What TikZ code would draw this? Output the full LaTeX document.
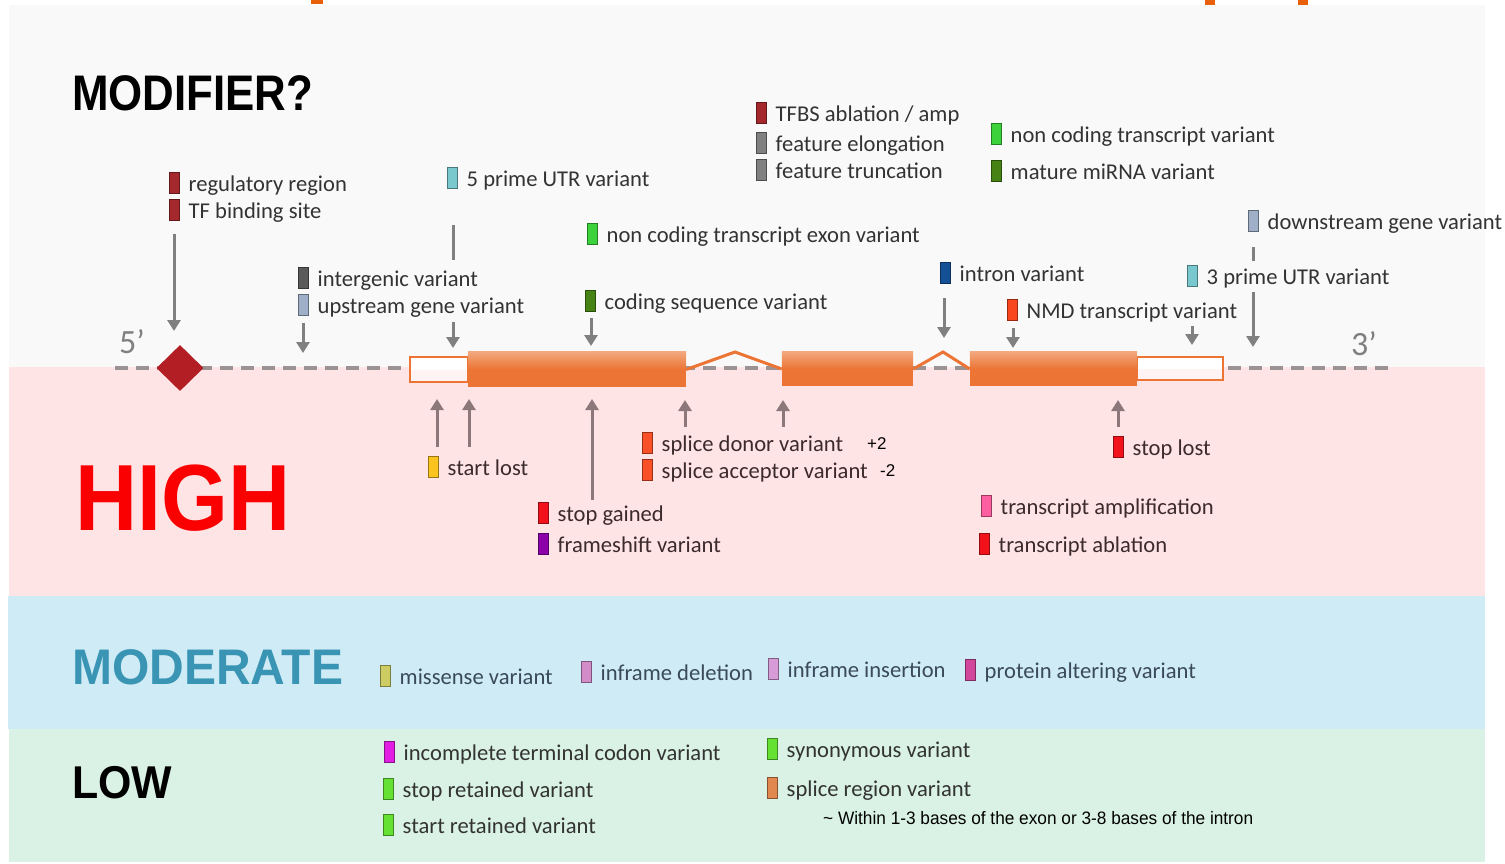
\documentclass[tikz,border=0pt]{standalone}
\usepackage{graphicx}
\usepackage{fontspec}
\setmainfont{Carlito}
\newfontfamily\arialf{Liberation Sans}
\usetikzlibrary{arrows.meta,shapes.geometric}
\definecolor{bgmod}{RGB}{249,249,249}
\definecolor{bghigh}{RGB}{255,228,230}
\definecolor{bgmoder}{RGB}{207,235,246}
\definecolor{bglow}{RGB}{217,242,229}
\definecolor{utrlow}{RGB}{255,243,244}
\definecolor{txtm}{RGB}{51,51,51}
\definecolor{txth}{RGB}{60,42,44}
\definecolor{txtmo}{RGB}{58,74,88}
\definecolor{arrm}{RGB}{128,128,128}
\definecolor{arrh}{RGB}{140,120,122}
\definecolor{geneg}{RGB}{155,147,147}
\definecolor{exor}{RGB}{236,116,52}
\definecolor{exhi}{RGB}{242,168,125}
\definecolor{frag}{RGB}{232,96,10}
\definecolor{cdkred}{RGB}{165,40,45}
\definecolor{cteal}{RGB}{120,200,205}
\definecolor{cgray}{RGB}{128,128,128}
\definecolor{cdkgray}{RGB}{90,90,90}
\definecolor{cgreen}{RGB}{60,210,60}
\definecolor{colive}{RGB}{70,130,20}
\definecolor{cslate}{RGB}{160,175,200}
\definecolor{cdkblue}{RGB}{20,80,150}
\definecolor{cnmd}{RGB}{250,70,30}
\definecolor{cgold}{RGB}{250,195,30}
\definecolor{csplice}{RGB}{250,80,40}
\definecolor{cred}{RGB}{242,18,28}
\definecolor{cpurple}{RGB}{140,0,170}
\definecolor{cpink}{RGB}{255,95,160}
\definecolor{cmiss}{RGB}{205,205,100}
\definecolor{cindel}{RGB}{210,140,200}
\definecolor{cinins}{RGB}{215,155,215}
\definecolor{cpav}{RGB}{210,70,155}
\definecolor{cmagenta}{RGB}{225,30,225}
\definecolor{clgreen}{RGB}{100,225,50}
\definecolor{csreg}{RGB}{225,135,80}
\definecolor{chigh}{RGB}{250,0,0}
\definecolor{cmodt}{RGB}{58,149,181}
\tikzset{
  swatch/.style={draw=#1!60!black, fill=#1, line width=0.7pt, minimum width=10.5pt, minimum height=21pt, inner sep=0pt},
  lbl/.style={font=\fontsize{22.6}{26}\selectfont, inner sep=0pt},
  arrm/.style={draw=arrm, line width=3pt, -{Triangle[width=13pt,length=11pt]}},
  arrmline/.style={draw=arrm, line width=3pt},
  arrh/.style={draw=arrh, line width=3pt, -{Triangle[width=13pt,length=11pt]}},
  geneline/.style={draw=geneg, line width=3.5pt, dash pattern=on 13pt off 8pt},
  intronline/.style={draw=exor, line width=3pt, line join=miter},
  utrbox/.style={fill=white, inner sep=0pt},
  utredge/.style={draw=exor, line width=2pt},
  exonbox/.style={fill=exor, inner sep=0pt},
  title/.style={inner sep=0pt, anchor=base west, font=\arialf\bfseries},
}
\newcommand\varlabel[6]{%
  \node[swatch=#4] (s#1) at (#2+5.5,#3) {};
  \node[lbl, text=#6, anchor=base west] (t#1) at (#2+19.5,#3+8) {#5};}
\begin{document}
\begin{tikzpicture}[x=1pt,y=-1pt]
\useasboundingbox (0,0) rectangle (1505,863);
\fill[white] (0,0) rectangle (1505,863);
% bands
\fill[bgmod] (9,5) rectangle (1485,367);
\fill[bghigh] (9,367) rectangle (1485,596);
\fill[bgmoder] (8,596) rectangle (1485,729);
\fill[bglow] (9,729) rectangle (1485,862);
% fragments at top
\fill[frag] (311,0) rectangle (323,4);
\fill[frag] (1205,0) rectangle (1215,5);
\fill[frag] (1298,0) rectangle (1308,5);
% titles
\node[title, font=\arialf\bfseries\fontsize{50}{56}\selectfont] (tmod) at (72,110) {\resizebox{241pt}{\height}{MODIFIER?}};
\node[title, text=chigh, font=\arialf\bfseries\fontsize{94}{100}\selectfont] (thigh) at (75,530) {\resizebox{215pt}{\height}{HIGH}};
\node[title, text=cmodt, font=\arialf\bfseries\fontsize{50}{56}\selectfont] (tmoder) at (72,684) {\resizebox{271pt}{\height}{MODERATE}};
\node[title, font=\arialf\bfseries\fontsize{46}{52}\selectfont] (tlow) at (72,798) {\resizebox{100pt}{\height}{LOW}};
% gene line
\coordinate (g5) at (115,368);
\coordinate (g3) at (1392,368);
\draw[geneline] (g5) -- (g3);
\node[inner sep=0pt, anchor=base west, text=arrm, font=\fontsize{34}{38}\selectfont] (five) at (119,353) {5’};
\node[inner sep=0pt, anchor=base west, text=arrm, font=\fontsize{34}{38}\selectfont] (three) at (1351,355) {3’};
\node[diamond, fill={rgb,255:red,178;green,30;blue,36}, minimum width=47pt, minimum height=46pt, inner sep=0pt] (regdia) at (180,368) {};
% gene structure
\node[utrbox, minimum width=58pt, minimum height=24pt] (utr5) at (439,369.5) {};
\node[utrbox, minimum width=86pt, minimum height=23pt] (utr3) at (1180,368.5) {};
\foreach \u in {utr5,utr3}{
  \fill[utrlow] (\u.west) rectangle (\u.south east);
  \draw[utredge] (\u.north west) rectangle (\u.south east);}
\node[exonbox, minimum width=218pt, minimum height=35pt] (ex1) at (577,369.5) {};
\node[exonbox, minimum width=131pt, minimum height=34pt] (ex2) at (847.5,369) {};
\node[exonbox, minimum width=167pt, minimum height=34pt] (ex3) at (1053.5,369) {};
\foreach \e in {ex1,ex2,ex3}{\shade[top color=exhi, bottom color=exor] (\e.north west) rectangle (\e.east);}
\coordinate (pk1) at (735,352);
\coordinate (pk2) at (943,352);
\draw[intronline] (ex1.east) -- (pk1) -- (ex2.west);
\draw[intronline] (ex2.east) -- (pk2) -- (ex3.west);
% modifier labels
\varlabel{reg}{169}{183}{cdkred}{regulatory region}{txtm}
\varlabel{tfb}{169}{210}{cdkred}{TF binding site}{txtm}
\varlabel{u5}{447}{178}{cteal}{5 prime UTR variant}{txtm}
\varlabel{tfba}{756}{113}{cdkred}{TFBS ablation / amp}{txtm}
\varlabel{fel}{756}{143}{cgray}{feature elongation}{txtm}
\varlabel{ftr}{756}{170}{cgray}{feature truncation}{txtm}
\varlabel{nct}{991}{134}{cgreen}{non coding transcript variant}{txtm}
\varlabel{mir}{991}{171}{colive}{mature miRNA variant}{txtm}
\varlabel{ncte}{587}{234}{cgreen}{non coding transcript exon variant}{txtm}
\varlabel{dgv}{1248}{221}{cslate}{downstream gene variant}{txtm}
\varlabel{igv}{298}{278}{cdkgray}{intergenic variant}{txtm}
\varlabel{ugv}{298}{305}{cslate}{upstream gene variant}{txtm}
\varlabel{csv}{585}{301}{colive}{coding sequence variant}{txtm}
\varlabel{inv}{940}{273}{cdkblue}{intron variant}{txtm}
\varlabel{u3}{1187}{276}{cteal}{3 prime UTR variant}{txtm}
\varlabel{nmd}{1007}{310}{cnmd}{NMD transcript variant}{txtm}
% modifier arrows
\coordinate (a1s) at (174,234); \coordinate (a1e) at (174,331);
\draw[arrm] (a1s) -- (a1e);
\coordinate (a2s) at (303,323); \coordinate (a2e) at (303,353);
\draw[arrm] (a2s) -- (a2e);
\coordinate (l3s) at (453,225); \coordinate (l3e) at (453,260);
\draw[arrmline] (l3s) -- (l3e);
\coordinate (a3s) at (453,322); \coordinate (a3e) at (453,348);
\draw[arrm] (a3s) -- (a3e);
\coordinate (a4s) at (591,318); \coordinate (a4e) at (591,346);
\draw[arrm] (a4s) -- (a4e);
\coordinate (a5s) at (944,298); \coordinate (a5e) at (944,338);
\draw[arrm] (a5s) -- (a5e);
\coordinate (a6s) at (1013,328); \coordinate (a6e) at (1013,348);
\draw[arrm] (a6s) -- (a6e);
\coordinate (a7s) at (1192,326); \coordinate (a7e) at (1192,345);
\draw[arrm] (a7s) -- (a7e);
\coordinate (l8s) at (1253,247); \coordinate (l8e) at (1253,261);
\draw[arrmline] (l8s) -- (l8e);
\coordinate (a8s) at (1253,292); \coordinate (a8e) at (1253,347);
\draw[arrm] (a8s) -- (a8e);
% high arrows
\coordinate (b1s) at (437,447); \coordinate (b1e) at (437,399);
\draw[arrh] (b1s) -- (b1e);
\coordinate (b2s) at (469,447); \coordinate (b2e) at (469,399);
\draw[arrh] (b2s) -- (b2e);
\coordinate (b3s) at (592,500); \coordinate (b3e) at (592,399);
\draw[arrh] (b3s) -- (b3e);
\coordinate (b4s) at (685,427); \coordinate (b4e) at (685,400);
\draw[arrh] (b4s) -- (b4e);
\coordinate (b5s) at (783,427); \coordinate (b5e) at (783,400);
\draw[arrh] (b5s) -- (b5e);
\coordinate (b6s) at (1118,427); \coordinate (b6e) at (1118,400);
\draw[arrh] (b6s) -- (b6e);
% high labels
\varlabel{sl}{428}{467}{cgold}{start lost}{txth}
\varlabel{sdv}{642}{443}{csplice}{splice donor variant}{txth}
\varlabel{sav}{642}{470}{csplice}{splice acceptor variant}{txth}
\varlabel{sg}{538}{513}{cred}{stop gained}{txth}
\varlabel{fs}{538}{544}{cpurple}{frameshift variant}{txth}
\varlabel{stl}{1113}{447}{cred}{stop lost}{txth}
\varlabel{ta}{981}{506}{cpink}{transcript amplification}{txth}
\varlabel{tab}{979}{544}{cred}{transcript ablation}{txth}
\node[inner sep=0pt, anchor=base west, font=\arialf\fontsize{17}{20}\selectfont] (plus2) at (867,449) {+2};
\node[inner sep=0pt, anchor=base west, font=\arialf\fontsize{17}{20}\selectfont] (minus2) at (880,476) {-2};
% moderate labels
\varlabel{mis}{380}{676}{cmiss}{missense variant}{txtmo}
\varlabel{ifd}{581}{672}{cindel}{inframe deletion}{txtmo}
\varlabel{ifi}{768}{669}{cinins}{inframe insertion}{txtmo}
\varlabel{pav}{965}{670}{cpav}{protein altering variant}{txtmo}
% low labels
\varlabel{itc}{384}{752}{cmagenta}{incomplete terminal codon variant}{txtm}
\varlabel{srv}{383}{789}{clgreen}{stop retained variant}{txtm}
\varlabel{stv}{383}{825}{clgreen}{start retained variant}{txtm}
\varlabel{syn}{767}{749}{clgreen}{synonymous variant}{txtm}
\varlabel{spr}{767}{788}{csreg}{splice region variant}{txtm}
\node[inner sep=0pt, anchor=base west, font=\arialf\fontsize{18}{21}\selectfont] (note) at (823,824) {\resizebox{430pt}{\height}{\textasciitilde{} Within 1-3 bases of the exon or 3-8 bases of the intron}};
\end{tikzpicture}
\end{document}
